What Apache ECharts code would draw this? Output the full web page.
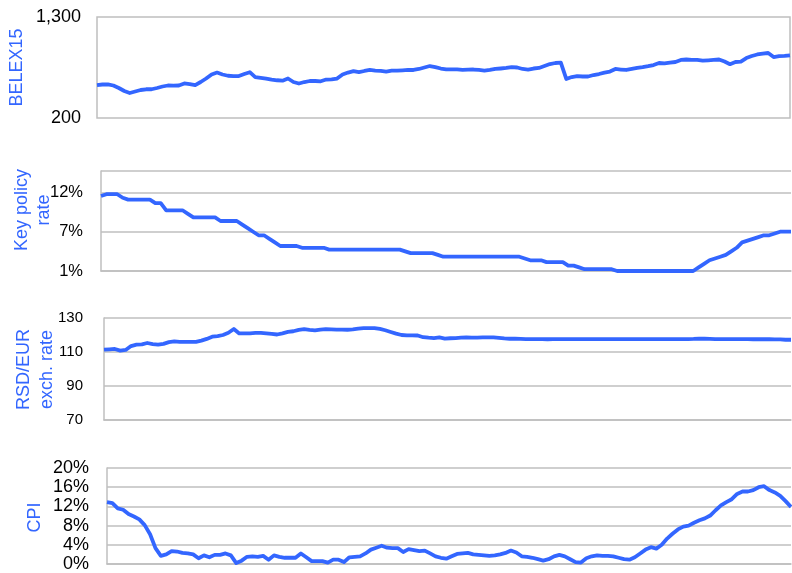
<!DOCTYPE html>
<html>
<head>
<meta charset="utf-8">
<script src="https://cdn.jsdelivr.net/npm/echarts@6/dist/echarts.min.js"></script>
<style>
  html, body { margin: 0; padding: 0; background: #fff; }
  #chart { width: 792px; height: 573px; }
</style>
</head>
<body>
<div id="chart"></div>
<script>
// Monthly observations, January 2013 – August 2023
const months = [];
for (let y = 2013; y <= 2023; y++) {
  for (let m = 1; m <= 12; m++) {
    if (y === 2023 && m > 8) break;
    months.push(y + '-' + String(m).padStart(2, '0'));
  }
}

// BELEX15 stock index (points)
const belex15 = [
  559,565,567,554,527,494,472,489,505,513,
  513,527,543,554,552,554,576,570,559,592,
  630,674,695,674,660,657,657,679,699,646,
  638,630,619,611,606,630,592,576,592,603,
  603,600,619,621,630,674,695,710,699,712,
  723,717,714,706,715,715,719,723,723,734,
  750,766,755,739,730,730,730,725,726,728,
  723,717,723,734,739,745,755,750,734,728,
  739,745,766,788,799,802,625,646,657,652,
  652,668,679,695,706,734,728,723,734,745,
  753,764,777,799,796,804,810,832,837,832,
  832,824,828,832,837,815,786,810,815,853,
  875,892,902,908,864,873,877,883
];

// Key policy rate (%)
const policyRate = [
  11.5,11.75,11.75,11.75,11.25,11,11,11,11,11,
  10.5,10.5,9.5,9.5,9.5,9.5,9,8.5,8.5,8.5,
  8.5,8.5,8,8,8,8,7.5,7,6.5,6,
  6,5.5,5,4.5,4.5,4.5,4.5,4.25,4.25,4.25,
  4.25,4.25,4,4,4,4,4,4,4,4,
  4,4,4,4,4,4,3.75,3.5,3.5,3.5,
  3.5,3.5,3.25,3,3,3,3,3,3,3,
  3,3,3,3,3,3,3,3,2.75,2.5,
  2.5,2.5,2.25,2.25,2.25,2.25,1.75,1.75,1.5,1.25,
  1.25,1.25,1.25,1.25,1.25,1,1,1,1,1,
  1,1,1,1,1,1,1,1,1,1,
  1.5,2,2.5,2.75,3,3.25,3.75,4.25,5,5.25,
  5.5,5.75,6,6,6.25,6.5,6.5,6.5
];

// RSD per EUR
const rsdEur = [
  111.4,111.6,111.8,110.8,111.2,113.5,114.3,114.5,115.3,114.6,
  114.3,114.8,115.8,116.2,116.0,115.9,115.9,116.0,116.7,117.7,
  119.0,119.4,120.0,121.3,123.5,120.9,121.0,121.0,121.2,121.2,
  121.0,120.7,120.3,121.0,121.8,122.2,123.0,123.4,123.0,122.7,
  123.2,123.4,123.3,123.2,123.2,123.1,123.3,123.7,124.0,124.1,
  124.1,123.6,122.8,121.8,120.8,120.0,119.8,119.8,119.7,118.7,
  118.4,118.2,118.6,117.9,118.1,118.2,118.4,118.6,118.5,118.5,
  118.6,118.6,118.6,118.3,118.0,117.8,117.8,117.7,117.6,117.6,
  117.6,117.6,117.5,117.6,117.6,117.6,117.6,117.6,117.6,117.6,
  117.6,117.6,117.6,117.6,117.6,117.6,117.6,117.6,117.6,117.6,
  117.6,117.6,117.6,117.6,117.6,117.6,117.6,117.6,117.6,117.7,
  117.9,117.8,117.7,117.6,117.6,117.6,117.6,117.6,117.6,117.6,
  117.5,117.5,117.5,117.5,117.4,117.4,117.2,117.2
];

// CPI, year-on-year (%)
const cpi = [
  12.9,12.7,11.6,11.3,10.4,9.9,9.3,8.1,6.2,3.3,
  1.7,2.0,2.7,2.6,2.3,2.2,2.0,1.2,1.8,1.4,
  1.9,1.9,2.2,1.8,0.2,0.7,1.5,1.6,1.5,1.7,
  0.9,1.8,1.5,1.3,1.3,1.3,2.2,1.4,0.6,0.6,
  0.6,0.3,0.9,0.9,0.4,1.4,1.5,1.6,2.2,3.0,
  3.4,3.8,3.4,3.3,3.3,2.5,3.1,2.9,2.7,2.8,
  2.2,1.6,1.3,1.1,1.6,2.1,2.2,2.3,2.0,1.9,
  1.8,1.7,1.8,2.0,2.3,2.8,2.4,1.6,1.5,1.3,
  1.0,0.7,1.0,1.6,1.9,1.6,1.0,0.4,0.3,1.2,
  1.6,1.8,1.7,1.7,1.6,1.3,1.0,0.9,1.4,2.2,
  3.0,3.5,3.2,4.0,5.3,6.3,7.2,7.8,8.0,8.6,
  9.1,9.5,10.1,11.2,12.2,12.9,13.5,14.6,15.1,15.1,
  15.4,16.0,16.2,15.4,14.9,14.2,13.1,11.9
];

const BLUE = '#3366FF';
const GRID_GRAY = '#BFBFBF';
const FONT = '"Liberation Sans", Arial, sans-serif';

const panels = [
  { grid: { left: 97,  top: 17,  width: 693, height: 101 }, min: 200, max: 1300, interval: 1100,
    fontSize: 18, margin: 16, fmt: v => v.toLocaleString('en-US'), data: belex15, boxed: true },
  { grid: { left: 101, top: 171, width: 690, height: 100 }, min: 1, max: 15, interval: 5.5,
    fontSize: 16.5, margin: 18, fmt: v => (v >= 15 ? '' : Math.round(v) + '%'), data: policyRate },
  { grid: { left: 104, top: 318, width: 687, height: 102 }, min: 70, max: 130, interval: 20,
    fontSize: 15, margin: 21, fmt: v => String(v), data: rsdEur },
  { grid: { left: 107, top: 468, width: 684, height: 99 }, min: 0, max: 20, interval: 4,
    fontSize: 18, margin: 18, fmt: v => v + '%', data: cpi }
];

const option = {
  animation: false,
  backgroundColor: '#fff',
  textStyle: { fontFamily: FONT },
  grid: panels.map(p => Object.assign({
    containLabel: false,
    show: !!p.boxed,
    borderColor: GRID_GRAY,
    borderWidth: 1.5
  }, p.grid)),
  xAxis: panels.map((p, i) => ({
    type: 'category',
    gridIndex: i,
    data: months,
    boundaryGap: false,
    axisLine: { show: !p.boxed, lineStyle: { color: GRID_GRAY, width: 1.5 } },
    axisTick: { show: false },
    axisLabel: { show: false },
    splitLine: { show: false }
  })),
  yAxis: panels.map((p, i) => ({
    type: 'value',
    gridIndex: i,
    min: p.min,
    max: p.max,
    interval: p.interval,
    axisLine: { show: !p.boxed, lineStyle: { color: GRID_GRAY, width: 1.5 } },
    axisTick: { show: false },
    axisLabel: {
      color: '#000',
      fontFamily: FONT,
      fontSize: p.fontSize,
      margin: p.margin,
      formatter: p.fmt
    },
    splitLine: { show: !p.boxed, lineStyle: { color: GRID_GRAY, width: 1.5 } }
  })),
  series: panels.map((p, i) => ({
    type: 'line',
    xAxisIndex: i,
    yAxisIndex: i,
    data: p.data,
    symbol: 'none',
    clip: false,
    lineStyle: { color: BLUE, width: 3.8, join: 'round' }
  })),
  graphic: [
    { type: 'text', x: 17, y: 67.5, rotation: Math.PI / 2,
      style: { text: 'BELEX15', fill: BLUE, font: '18px ' + FONT, align: 'center', verticalAlign: 'middle' } },
    { type: 'text', x: 33, y: 210, rotation: Math.PI / 2,
      style: { text: 'Key policy\nrate', fill: BLUE, font: '18px ' + FONT, lineHeight: 22, align: 'center', verticalAlign: 'middle' } },
    { type: 'text', x: 35.5, y: 369.5, rotation: Math.PI / 2,
      style: { text: 'RSD/EUR\nexch. rate', fill: BLUE, font: '18px ' + FONT, lineHeight: 22.5, align: 'center', verticalAlign: 'middle' } },
    { type: 'text', x: 35, y: 517.5, rotation: Math.PI / 2,
      style: { text: 'CPI', fill: BLUE, font: '18px ' + FONT, align: 'center', verticalAlign: 'middle' } }
  ]
};

const chart = echarts.init(document.getElementById('chart'), null, { renderer: 'canvas' });
chart.setOption(option);
</script>
</body>
</html>
